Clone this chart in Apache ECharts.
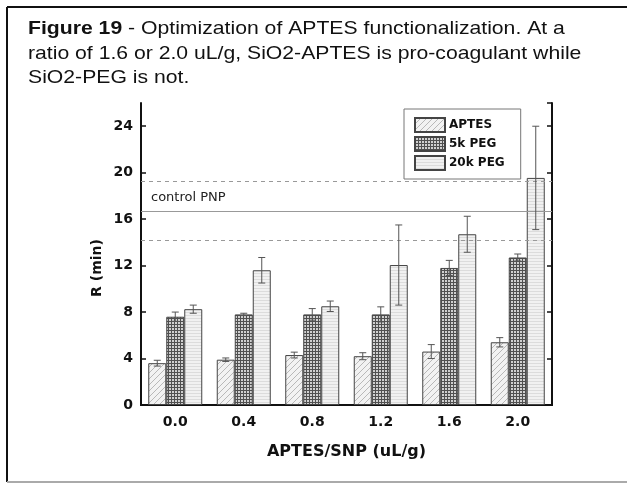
<!DOCTYPE html>
<html>
<head>
<meta charset="utf-8">
<script src="https://cdn.jsdelivr.net/npm/echarts@6/dist/echarts.min.js"></script>
<style>
  html, body { margin: 0; padding: 0; background: #fff; }
  #chart { width: 627px; height: 485px; }
</style>
</head>
<body>
<div id="chart"></div>
<script>
// data
const categories = ['0.0', '0.4', '0.8', '1.2', '1.6', '2.0'];
const seriesNames = ['APTES', '5k PEG', '20k PEG'];
const aptes = [3.6, 3.9, 4.3, 4.2, 4.6, 5.4];
const peg5k = [7.6, 7.8, 7.8, 7.8, 11.8, 12.7];
const peg20k = [8.25, 11.6, 8.5, 12.05, 14.7, 19.55];
const aptesErr = [0.25, 0.15, 0.25, 0.3, 0.6, 0.4];
const peg5kErr = [0.4, 0.1, 0.5, 0.65, 0.65, 0.3];
const peg20kErr = [0.35, 1.1, 0.45, 3.45, 1.55, 4.45];
const controlMean = 16.7;
const controlBand = [14.15, 19.3];

const chart = echarts.init(document.getElementById('chart'));

// fill patterns for the bars
function makePattern(size, draw) {
  const c = document.createElement('canvas');
  c.width = size;
  c.height = size;
  draw(c.getContext('2d'), size);
  return c;
}
const hatchPattern = makePattern(6, (ctx, s) => {
  ctx.fillStyle = '#f2f2f2';
  ctx.fillRect(0, 0, s, s);
  ctx.strokeStyle = '#b8b8b8';
  ctx.lineWidth = 1;
  ctx.beginPath();
  ctx.moveTo(0, s); ctx.lineTo(s, 0);
  ctx.moveTo(-1, 1); ctx.lineTo(1, -1);
  ctx.moveTo(s - 1, s + 1); ctx.lineTo(s + 1, s - 1);
  ctx.stroke();
});
const gridPattern = makePattern(3, (ctx, s) => {
  ctx.fillStyle = '#d0d0d0';
  ctx.fillRect(0, 0, s, s);
  ctx.fillStyle = '#505050';
  ctx.fillRect(0, 0, s, 1);
  ctx.fillRect(0, 0, 1, s);
});
const linePattern = makePattern(3, (ctx, s) => {
  ctx.fillStyle = '#f1f1f1';
  ctx.fillRect(0, 0, s, s);
  ctx.fillStyle = '#dcdcdc';
  ctx.fillRect(0, 0, s, 1);
});

const values = [aptes, peg5k, peg20k];
const errors = [aptesErr, peg5kErr, peg20kErr];
const patterns = [hatchPattern, gridPattern, linePattern];
const barWidth = 18;

const barSeries = seriesNames.map((name, s) => ({
  name: name,
  type: 'bar',
  barWidth: barWidth,
  barGap: '0%',
  data: values[s],
  itemStyle: {
    color: { image: patterns[s], repeat: 'repeat' },
    borderColor: '#444',
    borderWidth: 1
  },
  z: 2
}));

const errData = [];
values.forEach((vals, s) => {
  vals.forEach((v, i) => {
    errData.push([i, v - errors[s][i], v + errors[s][i], s]);
  });
});

const errorSeries = {
  type: 'custom',
  data: errData,
  z: 5,
  silent: true,
  renderItem: (params, api) => {
    const s = api.value(3);
    const low = api.coord([api.value(0), api.value(1)]);
    const high = api.coord([api.value(0), api.value(2)]);
    const x = low[0] + (s - 1) * barWidth;
    const cap = 3.5;
    const style = { stroke: '#555', lineWidth: 1 };
    return {
      type: 'group',
      children: [
        { type: 'line', shape: { x1: x, y1: low[1], x2: x, y2: high[1] }, style },
        { type: 'line', shape: { x1: x - cap, y1: high[1], x2: x + cap, y2: high[1] }, style },
        { type: 'line', shape: { x1: x - cap, y1: low[1], x2: x + cap, y2: low[1] }, style }
      ]
    };
  }
};

const axisFont = 'DejaVu Sans, sans-serif';
const captionFont = 'Liberation Sans, Arial, sans-serif';

const controlSeries = {
  type: 'line',
  data: [],
  silent: true,
  markLine: {
    symbol: 'none',
    silent: true,
    data: [
      {
        yAxis: controlMean,
        lineStyle: { type: 'solid', color: '#999', width: 1 },
        label: {
          show: true,
          position: 'insideStartTop',
          formatter: 'control PNP',
          color: '#222',
          fontFamily: axisFont,
          fontSize: 13,
          distance: [10, 7]
        }
      },
      { yAxis: controlBand[0], lineStyle: { type: [4, 4], color: '#999', width: 1 }, label: { show: false } },
      { yAxis: controlBand[1], lineStyle: { type: [4, 4], color: '#999', width: 1 }, label: { show: false } }
    ]
  },
  z: 1
};

chart.setOption({
  animation: false,
  backgroundColor: '#fff',
  grid: { left: 141, right: 75, top: 103, bottom: 80 },
  legend: {
    data: seriesNames,
    orient: 'vertical',
    left: 404,
    top: 109,
    itemWidth: 30,
    itemHeight: 14,
    itemGap: 3,
    padding: [8, 16, 8, 10],
    borderColor: '#777',
    borderWidth: 1,
    icon: 'rect',
    textStyle: { fontFamily: axisFont, fontWeight: 'bold', fontSize: 12, color: '#111', padding: [0, 0, 0, -1] }
  },
  xAxis: [
    {
      type: 'category',
      data: categories,
      axisLine: { lineStyle: { color: '#111', width: 2 } },
      axisTick: { show: false },
      axisLabel: { fontFamily: axisFont, fontWeight: 'bold', fontSize: 14, color: '#111', margin: 10 },
      name: 'APTES/SNP (uL/g)',
      nameLocation: 'middle',
      nameGap: 39,
      nameTextStyle: { fontFamily: axisFont, fontWeight: 'bold', fontSize: 16, color: '#111' }
    },
    {
      type: 'category',
      data: categories,
      position: 'top',
      axisLine: { lineStyle: { color: '#111', width: 2 } },
      axisTick: { show: false },
      axisLabel: { show: false }
    }
  ],
  yAxis: [
    {
      type: 'value',
      min: 0,
      max: 26,
      interval: 4,
      axisLine: { show: true, lineStyle: { color: '#111', width: 2 } },
      axisTick: { show: true, inside: true, length: 5, lineStyle: { color: '#111', width: 1.5 } },
      splitLine: { show: false },
      axisLabel: {
        fontFamily: axisFont, fontWeight: 'bold', fontSize: 14, color: '#111', margin: 8,
        showMaxLabel: false
      }
    },
    {
      type: 'value',
      min: 0,
      max: 26,
      interval: 4,
      position: 'right',
      axisLine: { show: true, lineStyle: { color: '#111', width: 2 } },
      axisTick: { show: true, inside: true, length: 5, lineStyle: { color: '#111', width: 1.5 } },
      splitLine: { show: false },
      axisLabel: { show: false }
    }
  ],
  graphic: [
    // outer frame of the figure
    { type: 'line', shape: { x1: 7, y1: 7, x2: 627, y2: 7 }, style: { stroke: '#111', lineWidth: 2 } },
    { type: 'line', shape: { x1: 7, y1: 7, x2: 7, y2: 482 }, style: { stroke: '#111', lineWidth: 2 } },
    { type: 'line', shape: { x1: 7, y1: 482, x2: 627, y2: 482 }, style: { stroke: '#aaa', lineWidth: 2 } },
    {
      type: 'text',
      x: 28,
      y: 17,
      scaleX: 1.145,
      style: {
        text: '{b|Figure 19} - Optimization of APTES functionalization. At a\nratio of 1.6 or 2.0 uL/g, SiO2-APTES is pro-coagulant while\nSiO2-PEG is not.',
        fontFamily: captionFont,
        fontSize: 18.5,
        lineHeight: 24.5,
        fill: '#111',
        rich: { b: { fontWeight: 'bold', fontFamily: captionFont, fontSize: 18.5, lineHeight: 24.5, fill: '#111' } }
      }
    },
    {
      type: 'text',
      x: 97,
      y: 268,
      rotation: Math.PI / 2,
      style: {
        text: 'R (min)',
        fontFamily: axisFont,
        fontWeight: 'bold',
        fontSize: 14,
        fill: '#111',
        align: 'center',
        verticalAlign: 'middle'
      }
    }
  ],
  series: [controlSeries, ...barSeries, errorSeries]
});
</script>
</body>
</html>
